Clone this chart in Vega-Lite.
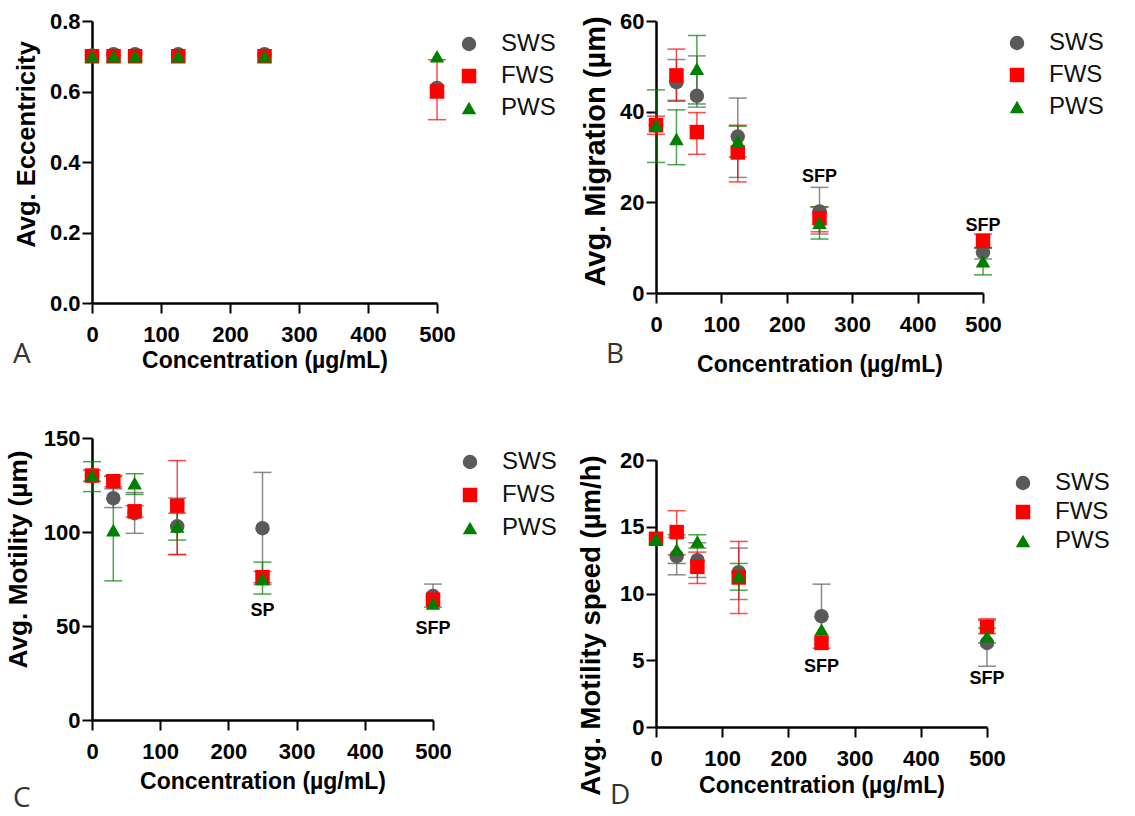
{
"$schema": "https://vega.github.io/schema/vega-lite/v6.json",
"padding": {"left": 5, "top": 10, "right": 0, "bottom": 0},
"background": "white",
"datasets": {
"pts": [
{"panel":"A","conc":0,"series":"SWS","value":0.702},
{"panel":"A","conc":31.25,"series":"SWS","value":0.706},
{"panel":"A","conc":62.5,"series":"SWS","value":0.706},
{"panel":"A","conc":125,"series":"SWS","value":0.706},
{"panel":"A","conc":250,"series":"SWS","value":0.706},
{"panel":"A","conc":500,"series":"SWS","value":0.61},
{"panel":"A","conc":0,"series":"FWS","value":0.7},
{"panel":"A","conc":31.25,"series":"FWS","value":0.7},
{"panel":"A","conc":62.5,"series":"FWS","value":0.7},
{"panel":"A","conc":125,"series":"FWS","value":0.7},
{"panel":"A","conc":250,"series":"FWS","value":0.7},
{"panel":"A","conc":500,"series":"FWS","value":0.6,"lo":0.52,"hi":0.69},
{"panel":"A","conc":0,"series":"PWS","value":0.7},
{"panel":"A","conc":31.25,"series":"PWS","value":0.7},
{"panel":"A","conc":62.5,"series":"PWS","value":0.7},
{"panel":"A","conc":125,"series":"PWS","value":0.7},
{"panel":"A","conc":250,"series":"PWS","value":0.7},
{"panel":"A","conc":500,"series":"PWS","value":0.7},

{"panel":"B","conc":0,"series":"SWS","value":37},
{"panel":"B","conc":31.25,"series":"SWS","value":46.5,"lo":42.5,"hi":51.5},
{"panel":"B","conc":62.5,"series":"SWS","value":43.5,"lo":41,"hi":52.3},
{"panel":"B","conc":125,"series":"SWS","value":34.5,"lo":25.5,"hi":43},
{"panel":"B","conc":250,"series":"SWS","value":18,"lo":13,"hi":23.3},
{"panel":"B","conc":500,"series":"SWS","value":9,"lo":7.5,"hi":10},
{"panel":"B","conc":0,"series":"FWS","value":37,"lo":35,"hi":39},
{"panel":"B","conc":31.25,"series":"FWS","value":48,"lo":42.3,"hi":53.8},
{"panel":"B","conc":62.5,"series":"FWS","value":35.5,"lo":30.6,"hi":39.8},
{"panel":"B","conc":125,"series":"FWS","value":31,"lo":24.5,"hi":37},
{"panel":"B","conc":250,"series":"FWS","value":16.5,"lo":13.5,"hi":19},
{"panel":"B","conc":500,"series":"FWS","value":11.5,"lo":10,"hi":13},
{"panel":"B","conc":0,"series":"PWS","value":37,"lo":28.8,"hi":44.8},
{"panel":"B","conc":31.25,"series":"PWS","value":34,"lo":28.3,"hi":40.4},
{"panel":"B","conc":62.5,"series":"PWS","value":49.5,"lo":41.7,"hi":56.8},
{"panel":"B","conc":125,"series":"PWS","value":33.5,"lo":30,"hi":36.8},
{"panel":"B","conc":250,"series":"PWS","value":15.5,"lo":11.9,"hi":19},
{"panel":"B","conc":500,"series":"PWS","value":7,"lo":4,"hi":9.9},

{"panel":"C","conc":0,"series":"SWS","value":130},
{"panel":"C","conc":31.25,"series":"SWS","value":118,"lo":113,"hi":123},
{"panel":"C","conc":62.5,"series":"SWS","value":110,"lo":99.3,"hi":121},
{"panel":"C","conc":125,"series":"SWS","value":103,"lo":88,"hi":118},
{"panel":"C","conc":250,"series":"SWS","value":102,"lo":72,"hi":131.7},
{"panel":"C","conc":500,"series":"SWS","value":66,"lo":60,"hi":72.3},
{"panel":"C","conc":0,"series":"FWS","value":130,"lo":127,"hi":133},
{"panel":"C","conc":31.25,"series":"FWS","value":127,"lo":124,"hi":130},
{"panel":"C","conc":62.5,"series":"FWS","value":111,"lo":108,"hi":114},
{"panel":"C","conc":125,"series":"FWS","value":114,"lo":88,"hi":138},
{"panel":"C","conc":250,"series":"FWS","value":76,"lo":73,"hi":79},
{"panel":"C","conc":500,"series":"FWS","value":64},
{"panel":"C","conc":0,"series":"PWS","value":130,"lo":121.5,"hi":137.4},
{"panel":"C","conc":31.25,"series":"PWS","value":101,"lo":74,"hi":129.4},
{"panel":"C","conc":62.5,"series":"PWS","value":126,"lo":120,"hi":131},
{"panel":"C","conc":125,"series":"PWS","value":103,"lo":95.7,"hi":110},
{"panel":"C","conc":250,"series":"PWS","value":75,"lo":67,"hi":84},
{"panel":"C","conc":500,"series":"PWS","value":62},

{"panel":"D","conc":0,"series":"SWS","value":14.1},
{"panel":"D","conc":31.25,"series":"SWS","value":12.8,"lo":11.4,"hi":14.2},
{"panel":"D","conc":62.5,"series":"SWS","value":12.5,"lo":11.2,"hi":13.8},
{"panel":"D","conc":125,"series":"SWS","value":11.6,"lo":9.55,"hi":13.4},
{"panel":"D","conc":250,"series":"SWS","value":8.3,"lo":5.9,"hi":10.7},
{"panel":"D","conc":500,"series":"SWS","value":6.3,"lo":4.55,"hi":8},
{"panel":"D","conc":0,"series":"FWS","value":14.1},
{"panel":"D","conc":31.25,"series":"FWS","value":14.6,"lo":12.9,"hi":16.2},
{"panel":"D","conc":62.5,"series":"FWS","value":12,"lo":10.75,"hi":13.1},
{"panel":"D","conc":125,"series":"FWS","value":11.2,"lo":8.5,"hi":13.9},
{"panel":"D","conc":250,"series":"FWS","value":6.3},
{"panel":"D","conc":500,"series":"FWS","value":7.5,"lo":7,"hi":8.1},
{"panel":"D","conc":0,"series":"PWS","value":14.1},
{"panel":"D","conc":31.25,"series":"PWS","value":13.3,"lo":12.25,"hi":14.4},
{"panel":"D","conc":62.5,"series":"PWS","value":13.9,"lo":13.4,"hi":14.4},
{"panel":"D","conc":125,"series":"PWS","value":11.3,"lo":10.25,"hi":12.25},
{"panel":"D","conc":250,"series":"PWS","value":7.3},
{"panel":"D","conc":500,"series":"PWS","value":6.8,"lo":6.3,"hi":7.4}
],
"notes": [
{"panel":"B","conc":250,"y":25.6,"label":"SFP"},
{"panel":"B","conc":500,"y":14.8,"label":"SFP"},
{"panel":"C","conc":250,"y":58,"label":"SP"},
{"panel":"C","conc":500,"y":48.4,"label":"SFP"},
{"panel":"D","conc":250,"y":4.5,"label":"SFP"},
{"panel":"D","conc":500,"y":3.6,"label":"SFP"}
]
},
"hconcat": [
{
"resolve": {"scale": {"color": "independent", "shape": "independent", "x": "independent", "y": "independent"}, "legend": {"color": "independent", "shape": "independent"}},
"vconcat": [
{
"width": 345, "height": 282,
"title": {"text": "A", "orient": "bottom", "anchor": "start", "frame": "group", "dx": -79, "offset": -31, "font": "Open Sans", "fontSize": 28, "fontWeight": "normal", "color": "#333"},
"encoding": {
"x": {"field": "conc", "type": "quantitative", "scale": {"domain": [0, 500], "nice": false}, "axis": {"values": [0,100,200,300,400,500], "title": "Concentration (µg/mL)", "titlePadding": 4}},
"color": {"field": "series", "type": "nominal", "title": null, "scale": {"domain": ["SWS","FWS","PWS"], "range": ["#5a5a5a","#ff0000","#008000"]}, "legend": {"orient": "none", "legendX": 365, "legendY": 11, "rowPadding": 8}}
},
"layer": [
{"data": {"name": "pts"}, "transform": [{"filter": "datum.panel === 'A' && isValid(datum.lo)"}], "mark": {"type": "rule", "strokeWidth": 1.5, "opacity": 0.7}, "encoding": {"y": {"field": "lo", "type": "quantitative", "scale": {"domain": [0, 0.8]}, "axis": {"title": "Avg. Eccentricity", "values": [0,0.2,0.4,0.6,0.8], "format": ".1f", "titleFontSize": 25.6, "titlePadding": 10, "titleY": 123}}, "y2": {"field": "hi"}}},
{"data": {"name": "pts"}, "transform": [{"filter": "datum.panel === 'A' && isValid(datum.lo)"}], "mark": {"type": "tick", "orient": "horizontal", "size": 18, "thickness": 1.5, "opacity": 0.7}, "encoding": {"y": {"field": "lo", "type": "quantitative", "scale": {"domain": [0, 0.8]}, "axis": {"title": "Avg. Eccentricity", "values": [0,0.2,0.4,0.6,0.8], "format": ".1f", "titleFontSize": 25.6, "titlePadding": 10, "titleY": 123}}}},
{"data": {"name": "pts"}, "transform": [{"filter": "datum.panel === 'A' && isValid(datum.lo)"}], "mark": {"type": "tick", "orient": "horizontal", "size": 18, "thickness": 1.5, "opacity": 0.7}, "encoding": {"y": {"field": "hi", "type": "quantitative", "scale": {"domain": [0, 0.8]}, "axis": {"title": "Avg. Eccentricity", "values": [0,0.2,0.4,0.6,0.8], "format": ".1f", "titleFontSize": 25.6, "titlePadding": 10, "titleY": 123}}}},
{"data": {"name": "pts"}, "transform": [{"filter": "datum.panel === 'A'"}], "mark": {"type": "point", "filled": true, "size": 210, "opacity": 1}, "encoding": {"y": {"field": "value", "type": "quantitative", "scale": {"domain": [0, 0.8]}, "axis": {"title": "Avg. Eccentricity", "values": [0,0.2,0.4,0.6,0.8], "format": ".1f", "titleFontSize": 25.6, "titlePadding": 10, "titleY": 123}}, "shape": {"field": "series", "type": "nominal", "title": null, "scale": {"domain": ["SWS","FWS","PWS"], "range": ["circle","square","triangle-up"]}}}}
]
},
{
"width": 341, "height": 282,
"title": {"text": "C", "orient": "bottom", "anchor": "start", "frame": "group", "dx": -79, "offset": -8, "font": "Open Sans", "fontSize": 28, "fontWeight": "normal", "color": "#333"},
"encoding": {
"x": {"field": "conc", "type": "quantitative", "scale": {"domain": [0, 500], "nice": false}, "axis": {"values": [0,100,200,300,400,500], "title": "Concentration (µg/mL)", "titlePadding": 8}},
"color": {"field": "series", "type": "nominal", "title": null, "scale": {"domain": ["SWS","FWS","PWS"], "range": ["#5a5a5a","#ff0000","#008000"]}, "legend": {"orient": "none", "legendX": 366, "legendY": 12, "rowPadding": 9}}
},
"layer": [
{"data": {"name": "pts"}, "transform": [{"filter": "datum.panel === 'C' && isValid(datum.lo)"}], "mark": {"type": "rule", "strokeWidth": 1.5, "opacity": 0.7}, "encoding": {"y": {"field": "lo", "type": "quantitative", "scale": {"domain": [0, 150]}, "axis": {"title": "Avg. Motility (µm)", "values": [0,50,100,150], "titleFontSize": 26.2, "titlePadding": 10.7, "titleY": 121}}, "y2": {"field": "hi"}}},
{"data": {"name": "pts"}, "transform": [{"filter": "datum.panel === 'C' && isValid(datum.lo)"}], "mark": {"type": "tick", "orient": "horizontal", "size": 18, "thickness": 1.5, "opacity": 0.7}, "encoding": {"y": {"field": "lo", "type": "quantitative", "scale": {"domain": [0, 150]}, "axis": {"title": "Avg. Motility (µm)", "values": [0,50,100,150], "titleFontSize": 26.2, "titlePadding": 10.7, "titleY": 121}}}},
{"data": {"name": "pts"}, "transform": [{"filter": "datum.panel === 'C' && isValid(datum.lo)"}], "mark": {"type": "tick", "orient": "horizontal", "size": 18, "thickness": 1.5, "opacity": 0.7}, "encoding": {"y": {"field": "hi", "type": "quantitative", "scale": {"domain": [0, 150]}, "axis": {"title": "Avg. Motility (µm)", "values": [0,50,100,150], "titleFontSize": 26.2, "titlePadding": 10.7, "titleY": 121}}}},
{"data": {"name": "pts"}, "transform": [{"filter": "datum.panel === 'C'"}], "mark": {"type": "point", "filled": true, "size": 210, "opacity": 1}, "encoding": {"y": {"field": "value", "type": "quantitative", "scale": {"domain": [0, 150]}, "axis": {"title": "Avg. Motility (µm)", "values": [0,50,100,150], "titleFontSize": 26.2, "titlePadding": 10.7, "titleY": 121}}, "shape": {"field": "series", "type": "nominal", "title": null, "scale": {"domain": ["SWS","FWS","PWS"], "range": ["circle","square","triangle-up"]}}}},
{"data": {"name": "notes"}, "transform": [{"filter": "datum.panel === 'C'"}], "mark": {"type": "text", "font": "Liberation Sans", "fontSize": 18, "fontWeight": "bold", "baseline": "middle"}, "encoding": {"y": {"field": "y", "type": "quantitative", "scale": {"domain": [0, 150]}, "axis": {"title": "Avg. Motility (µm)", "values": [0,50,100,150], "titleFontSize": 26.2, "titlePadding": 10.7, "titleY": 121}}, "text": {"field": "label"}, "color": {"value": "#000"}}}
]
}
],
"spacing": 55
},
{
"resolve": {"scale": {"color": "independent", "shape": "independent", "x": "independent", "y": "independent"}, "legend": {"color": "independent", "shape": "independent"}},
"vconcat": [
{
"width": 327, "height": 272,
"title": {"text": "B", "orient": "bottom", "anchor": "start", "frame": "group", "dx": -50, "offset": -35, "font": "Open Sans", "fontSize": 28, "fontWeight": "normal", "color": "#333"},
"encoding": {
"x": {"field": "conc", "type": "quantitative", "scale": {"domain": [0, 500], "nice": false}, "axis": {"values": [0,100,200,300,400,500], "title": "Concentration (µg/mL)", "titlePadding": 18}},
"color": {"field": "series", "type": "nominal", "title": null, "scale": {"domain": ["SWS","FWS","PWS"], "range": ["#5a5a5a","#ff0000","#008000"]}, "legend": {"orient": "none", "legendX": 349, "legendY": 10, "rowPadding": 8}}
},
"layer": [
{"data": {"name": "pts"}, "transform": [{"filter": "datum.panel === 'B' && isValid(datum.lo)"}], "mark": {"type": "rule", "strokeWidth": 1.5, "opacity": 0.7}, "encoding": {"y": {"field": "lo", "type": "quantitative", "scale": {"domain": [0, 60]}, "axis": {"title": "Avg. Migration (µm)", "values": [0,20,40,60], "titleFontSize": 29, "titlePadding": 9, "titleY": 130}}, "y2": {"field": "hi"}}},
{"data": {"name": "pts"}, "transform": [{"filter": "datum.panel === 'B' && isValid(datum.lo)"}], "mark": {"type": "tick", "orient": "horizontal", "size": 18, "thickness": 1.5, "opacity": 0.7}, "encoding": {"y": {"field": "lo", "type": "quantitative", "scale": {"domain": [0, 60]}, "axis": {"title": "Avg. Migration (µm)", "values": [0,20,40,60], "titleFontSize": 29, "titlePadding": 9, "titleY": 130}}}},
{"data": {"name": "pts"}, "transform": [{"filter": "datum.panel === 'B' && isValid(datum.lo)"}], "mark": {"type": "tick", "orient": "horizontal", "size": 18, "thickness": 1.5, "opacity": 0.7}, "encoding": {"y": {"field": "hi", "type": "quantitative", "scale": {"domain": [0, 60]}, "axis": {"title": "Avg. Migration (µm)", "values": [0,20,40,60], "titleFontSize": 29, "titlePadding": 9, "titleY": 130}}}},
{"data": {"name": "pts"}, "transform": [{"filter": "datum.panel === 'B'"}], "mark": {"type": "point", "filled": true, "size": 210, "opacity": 1}, "encoding": {"y": {"field": "value", "type": "quantitative", "scale": {"domain": [0, 60]}, "axis": {"title": "Avg. Migration (µm)", "values": [0,20,40,60], "titleFontSize": 29, "titlePadding": 9, "titleY": 130}}, "shape": {"field": "series", "type": "nominal", "title": null, "scale": {"domain": ["SWS","FWS","PWS"], "range": ["circle","square","triangle-up"]}}}},
{"data": {"name": "notes"}, "transform": [{"filter": "datum.panel === 'B'"}], "mark": {"type": "text", "font": "Liberation Sans", "fontSize": 18, "fontWeight": "bold", "baseline": "middle"}, "encoding": {"y": {"field": "y", "type": "quantitative", "scale": {"domain": [0, 60]}, "axis": {"title": "Avg. Migration (µm)", "values": [0,20,40,60], "titleFontSize": 29, "titlePadding": 9, "titleY": 130}}, "text": {"field": "label"}, "color": {"value": "#000"}}}
]
},
{
"width": 331, "height": 267,
"title": {"text": "D", "orient": "bottom", "anchor": "start", "frame": "group", "dx": -46, "offset": -15, "font": "Open Sans", "fontSize": 28, "fontWeight": "normal", "color": "#333"},
"encoding": {
"x": {"field": "conc", "type": "quantitative", "scale": {"domain": [0, 500], "nice": false}, "axis": {"values": [0,100,200,300,400,500], "title": "Concentration (µg/mL)", "titlePadding": 5}},
"color": {"field": "series", "type": "nominal", "title": null, "scale": {"domain": ["SWS","FWS","PWS"], "range": ["#5a5a5a","#ff0000","#008000"]}, "legend": {"orient": "none", "legendX": 355, "legendY": 11, "rowPadding": 5}}
},
"layer": [
{"data": {"name": "pts"}, "transform": [{"filter": "datum.panel === 'D' && isValid(datum.lo)"}], "mark": {"type": "rule", "strokeWidth": 1.5, "opacity": 0.7}, "encoding": {"y": {"field": "lo", "type": "quantitative", "scale": {"domain": [0, 20]}, "axis": {"title": "Avg. Motility speed (µm/h)", "values": [0,5,10,15,20], "titleFontSize": 27.5, "titlePadding": 14, "titleY": 165}}, "y2": {"field": "hi"}}},
{"data": {"name": "pts"}, "transform": [{"filter": "datum.panel === 'D' && isValid(datum.lo)"}], "mark": {"type": "tick", "orient": "horizontal", "size": 18, "thickness": 1.5, "opacity": 0.7}, "encoding": {"y": {"field": "lo", "type": "quantitative", "scale": {"domain": [0, 20]}, "axis": {"title": "Avg. Motility speed (µm/h)", "values": [0,5,10,15,20], "titleFontSize": 27.5, "titlePadding": 14, "titleY": 165}}}},
{"data": {"name": "pts"}, "transform": [{"filter": "datum.panel === 'D' && isValid(datum.lo)"}], "mark": {"type": "tick", "orient": "horizontal", "size": 18, "thickness": 1.5, "opacity": 0.7}, "encoding": {"y": {"field": "hi", "type": "quantitative", "scale": {"domain": [0, 20]}, "axis": {"title": "Avg. Motility speed (µm/h)", "values": [0,5,10,15,20], "titleFontSize": 27.5, "titlePadding": 14, "titleY": 165}}}},
{"data": {"name": "pts"}, "transform": [{"filter": "datum.panel === 'D'"}], "mark": {"type": "point", "filled": true, "size": 210, "opacity": 1}, "encoding": {"y": {"field": "value", "type": "quantitative", "scale": {"domain": [0, 20]}, "axis": {"title": "Avg. Motility speed (µm/h)", "values": [0,5,10,15,20], "titleFontSize": 27.5, "titlePadding": 14, "titleY": 165}}, "shape": {"field": "series", "type": "nominal", "title": null, "scale": {"domain": ["SWS","FWS","PWS"], "range": ["circle","square","triangle-up"]}}}},
{"data": {"name": "notes"}, "transform": [{"filter": "datum.panel === 'D'"}], "mark": {"type": "text", "font": "Liberation Sans", "fontSize": 18, "fontWeight": "bold", "baseline": "middle"}, "encoding": {"y": {"field": "y", "type": "quantitative", "scale": {"domain": [0, 20]}, "axis": {"title": "Avg. Motility speed (µm/h)", "values": [0,5,10,15,20], "titleFontSize": 27.5, "titlePadding": 14, "titleY": 165}}, "text": {"field": "label"}, "color": {"value": "#000"}}}
]
}
],
"spacing": 73
}
],
"spacing": 20,
"resolve": {"scale": {"color": "independent", "shape": "independent", "x": "independent", "y": "independent"}, "legend": {"color": "independent", "shape": "independent"}},
"config": {
"view": {"stroke": null},
"axis": {"grid": false, "domainColor": "#000", "domainWidth": 2.5, "tickColor": "#000", "tickWidth": 2, "tickSize": 10, "labelFont": "Liberation Sans", "labelFontSize": 22, "labelFontWeight": "bold", "labelColor": "#000", "titleColor": "#000", "titleFontWeight": "bold", "titleFont": "Liberation Sans", "labelFlush": false, "labelOverlap": false},
"axisX": {"labelPadding": 11, "titleFontSize": 23},
"axisY": {"labelPadding": 2},
"legend": {"labelFont": "Liberation Sans", "labelFontSize": 24, "labelColor": "#111", "symbolSize": 210, "labelOffset": 20, "padding": 0, "symbolStrokeWidth": 0, "symbolOpacity": 1}
}
}
